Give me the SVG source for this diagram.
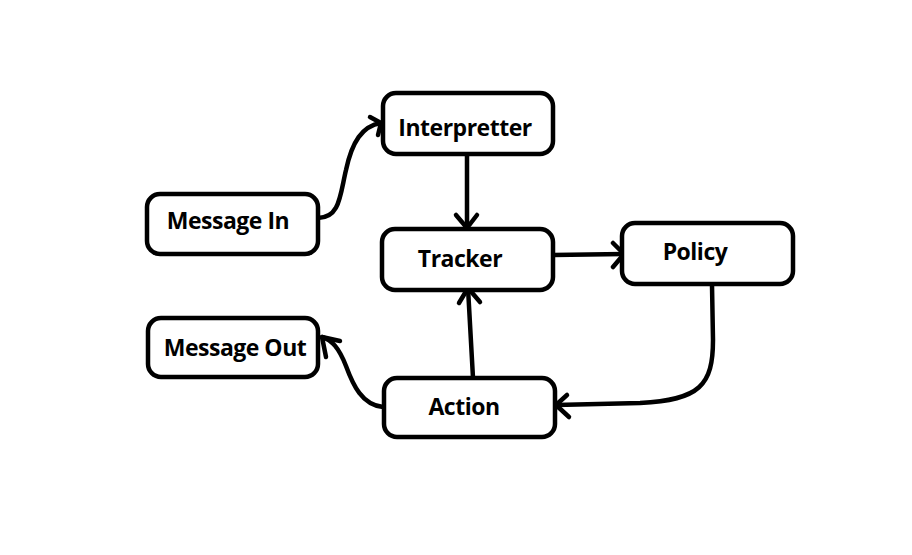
<svg xmlns="http://www.w3.org/2000/svg" width="912" height="555" viewBox="0 0 912 555">
<style>
.box{fill:#fff;stroke:#000;stroke-width:4.5}
.lbl{font-family:"Open Sans",Lato,"Liberation Sans",sans-serif;font-weight:700;font-size:23px;letter-spacing:-0.5px;fill:#000;text-anchor:middle}
.c{fill:none;stroke:#000;stroke-width:4.5;stroke-linecap:round;stroke-linejoin:round}
</style>
<rect width="912" height="555" fill="#fff"/>
<g id="connectors">
<path class="c" d="M318,218 C340,218 340,195 346,170 C352,142 362,126 381,123"/>
<path class="c" d="M370,117 L381,123 L378,135"/>
<path class="c" d="M467,155 L467,228"/>
<path class="c" d="M456,215 L467,228 L477,215"/>
<path class="c" d="M553,255 L624,254"/>
<path class="c" d="M613,243 L624,254 L613,267"/>
<path class="c" d="M712,285 L713,340 C713,385 700,400 640,403 L556,405"/>
<path class="c" d="M567,395 L556,405 L569,417"/>
<path class="c" d="M473,378 L468,288"/>
<path class="c" d="M459,303 L468,288 L480,302"/>
<path class="c" d="M383,407 C362,405 353,385 346,366 C339,348 332,340 322,337"/>
<path class="c" d="M340,341 L322,337 L326,357"/>
</g>
<g id="interpretter"><rect class="box" x="383" y="93" width="170" height="61" rx="13"/><text class="lbl" x="465" y="136">Interpretter</text></g>
<g id="message-in"><rect class="box" x="147" y="194" width="171" height="60" rx="13"/><text class="lbl" x="228" y="229">Message In</text></g>
<g id="tracker"><rect class="box" x="382" y="229" width="171" height="61" rx="13"/><text class="lbl" x="460" y="267">Tracker</text></g>
<g id="policy"><rect class="box" x="622" y="223" width="171" height="61" rx="13"/><text class="lbl" x="695" y="260">Policy</text></g>
<g id="message-out"><rect class="box" x="148" y="318" width="170" height="59" rx="13"/><text class="lbl" x="235" y="356">Message Out</text></g>
<g id="action"><rect class="box" x="384" y="378" width="171" height="59" rx="13"/><text class="lbl" x="464" y="415">Action</text></g>
</svg>
